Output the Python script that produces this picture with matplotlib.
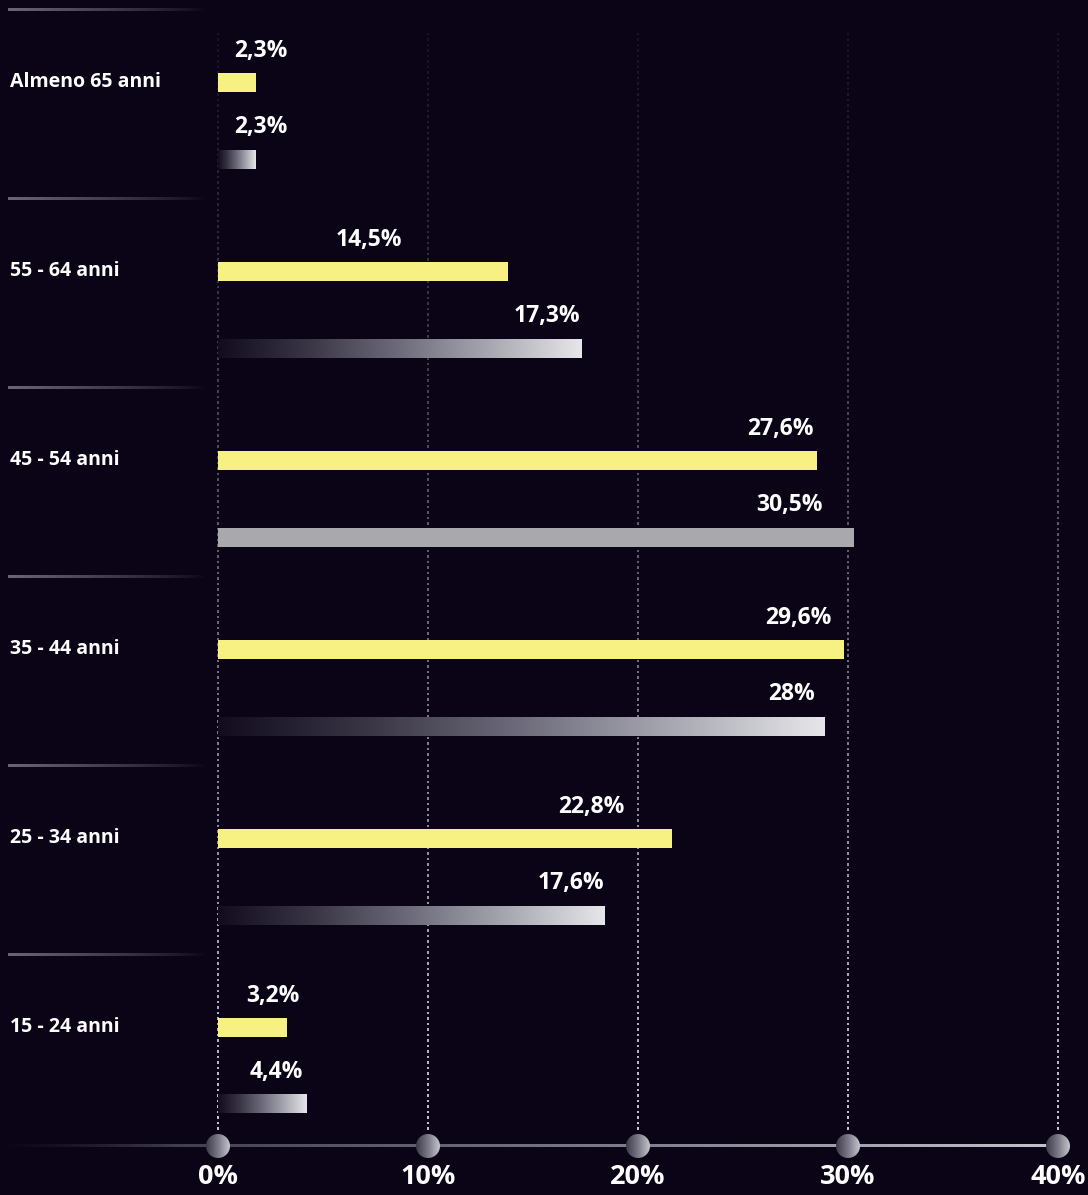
import numpy as np
import matplotlib
matplotlib.use('Agg')
import matplotlib.pyplot as plt
from matplotlib.colors import LinearSegmentedColormap, to_rgb
from matplotlib.patches import Ellipse

# data
groups = ['Almeno 65 anni', '55 - 64 anni', '45 - 54 anni',
          '35 - 44 anni', '25 - 34 anni', '15 - 24 anni']
yellow_vals = [1.8, 13.8, 28.5, 29.8, 21.6, 3.3]
gray_vals = [1.8, 17.3, 30.3, 28.9, 18.4, 4.2]
yellow_labels = ['2,3%', '14,5%', '27,6%', '29,6%', '22,8%', '3,2%']
gray_labels = ['2,3%', '17,3%', '30,5%', '28%', '17,6%', '4,4%']
# right edge of each value label (in % units)
yellow_label_x = [3.33, 8.76, 28.38, 29.24, 19.38, 3.90]
gray_label_x = [3.33, 17.24, 28.81, 28.43, 18.38, 4.05]
solid_gray = [False, False, True, False, False, False]
ticks = [0, 10, 20, 30, 40]
tick_labels = ['0%', '10%', '20%', '30%', '40%']

BG = '#0a0416'
YELLOW = '#f7f083'
FONT = ['Open Sans', 'DejaVu Sans']

W, H = 1088, 1195
PX = 21.0          # pixels per 1%
X0 = 218           # pixel position of 0%

def px2x(p):
    return (p - X0) / PX

fig = plt.figure(figsize=(W / 100, H / 100), dpi=100, facecolor=BG)
ax = fig.add_axes([0, 0, 1, 1])
ax.set_facecolor(BG)
ax.axis('off')

bar_h = 19
group_h = 189
top0 = 9
axis_y = 1146

grad_cmap = LinearSegmentedColormap.from_list(
    'g', ['#120c1e', '#3a3646', '#6e6c7c', '#a8a8b2', '#e6e6ea'])
grad = np.linspace(0, 1, 256).reshape(1, -1)

# dotted grid lines, fading towards the top
dot_y = np.arange(34, 1134, 5.5)
t = (dot_y - dot_y.min()) / (dot_y.max() - dot_y.min())
alpha = 0.08 + 0.92 * t ** 1.2
base = np.array(to_rgb('#c4c4cc'))
cols = np.column_stack([np.tile(base, (len(dot_y), 1)), alpha])
for tk in ticks:
    ax.scatter(np.full_like(dot_y, tk), dot_y, s=2.2, marker='s',
               c=cols, linewidths=0, zorder=1)

# group separators (fade to the right)
sep_rgba = np.zeros((1, 256, 4))
sep_rgba[..., :3] = to_rgb('#6a6678')
sep_rgba[..., 3] = np.linspace(1, 0, 256) ** 0.8
for i in range(len(groups)):
    yt = top0 + i * group_h
    ax.imshow(sep_rgba, extent=(px2x(8), px2x(206), yt + 1.5, yt - 1.5),
              aspect='auto', zorder=2)

for i, g in enumerate(groups):
    yt = top0 + i * group_h
    yc1 = yt + 73
    yc2 = yt + 150

    ax.text(px2x(10), yc1, g, color='white', fontsize=14, fontweight='bold',
            family=FONT, ha='left', va='center')

    ax.barh(yc1, yellow_vals[i], height=bar_h, left=0, color=YELLOW, zorder=3)
    ax.text(yellow_label_x[i], yc1 - 31, yellow_labels[i], color='white',
            fontsize=16.5, fontweight='bold', family=FONT,
            ha='right', va='center', zorder=5)

    if solid_gray[i]:
        ax.barh(yc2, gray_vals[i], height=bar_h, left=0, color='#a9a9ad', zorder=3)
    else:
        ax.imshow(grad, extent=(0, gray_vals[i], yc2 + bar_h / 2, yc2 - bar_h / 2),
                  cmap=grad_cmap, aspect='auto', zorder=3)
    ax.text(gray_label_x[i], yc2 - 32, gray_labels[i], color='white',
            fontsize=16.5, fontweight='bold', family=FONT,
            ha='right', va='center', zorder=5)

# bottom axis line with gradient
line_rgba = np.zeros((1, 512, 4))
lc = LinearSegmentedColormap.from_list('l', ['#2a2636', '#5a5768', '#8a8896', '#c4c4cc'])
line_rgba[0] = lc(np.linspace(0, 1, 512))
line_rgba[0, :, 3] = np.clip(np.linspace(0, 6, 512), 0, 1)
ax.imshow(line_rgba, extent=(px2x(0), 40, axis_y + 1.5, axis_y - 1.5),
          aspect='auto', zorder=4)

# tick knobs
knob_cmap = LinearSegmentedColormap.from_list('k', ['#3c3a48', '#7a7886', '#c6c6ce'])
r = 12
for tk, tl in zip(ticks, tick_labels):
    e = Ellipse((tk, axis_y), width=2 * r / PX, height=2 * r,
                facecolor='none', edgecolor='none', zorder=5)
    ax.add_patch(e)
    im = ax.imshow(grad, extent=(tk - r / PX, tk + r / PX, axis_y + r, axis_y - r),
                   cmap=knob_cmap, aspect='auto', zorder=5)
    im.set_clip_path(e)
    ax.text(tk, 1177, tl, color='white', fontsize=19.5, fontweight='bold',
            family=FONT, ha='center', va='center')

ax.set_xlim(px2x(0), px2x(W))
ax.set_ylim(H, 0)

fig.savefig('out.png', dpi=100, facecolor=BG)
